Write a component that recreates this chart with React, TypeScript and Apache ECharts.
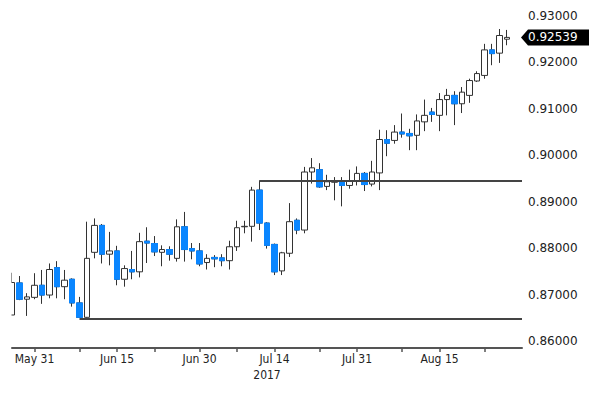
import React, { useEffect, useRef } from "react";
import * as echarts from "echarts";

const dates = [
  "May 26", "May 29", "May 30", "May 31",
  "Jun 1", "Jun 2", "Jun 5", "Jun 6", "Jun 7", "Jun 8", "Jun 9", "Jun 12", "Jun 13", "Jun 14", "Jun 15", "Jun 16",
  "Jun 19", "Jun 20", "Jun 21", "Jun 22", "Jun 23", "Jun 26", "Jun 27", "Jun 28", "Jun 29", "Jun 30",
  "Jul 3", "Jul 4", "Jul 5", "Jul 6", "Jul 7", "Jul 10", "Jul 11", "Jul 12", "Jul 13", "Jul 14",
  "Jul 17", "Jul 18", "Jul 19", "Jul 20", "Jul 21", "Jul 24", "Jul 25", "Jul 26", "Jul 27", "Jul 28", "Jul 31",
  "Aug 1", "Aug 2", "Aug 3", "Aug 4", "Aug 7", "Aug 8", "Aug 9", "Aug 10", "Aug 11", "Aug 14", "Aug 15",
  "Aug 16", "Aug 17", "Aug 18", "Aug 21", "Aug 22", "Aug 23", "Aug 24", "Aug 25", "Aug 28", "Aug 29", "Aug 30",
];

const labelDates = ["May 31", "Jun 15", "Jun 30", "Jul 14", "Jul 31", "Aug 15"];
const tickDates = [...labelDates, "Jun 8", "Jun 22", "Jul 7", "Jul 24", "Aug 8", "Aug 23"];
const yearLabel = "2017";
const yearAnchor = "Jul 13";

const opens = [
  0.8656, 0.8725, 0.8690, 0.8694, 0.8720, 0.8699, 0.8758, 0.8717, 0.8733, 0.8682,
  0.8651, 0.8791, 0.8849, 0.8787, 0.8794, 0.8733, 0.8754, 0.8749, 0.8815, 0.8810,
  0.8791, 0.8797, 0.8778, 0.8846, 0.8799, 0.8794, 0.8769, 0.8780, 0.8779, 0.8773,
  0.8803, 0.8846, 0.8847, 0.8925, 0.8854, 0.8808, 0.8751, 0.8789, 0.8860, 0.8839,
  0.8964, 0.8969, 0.8933, 0.8942, 0.8943, 0.8935, 0.8945, 0.8961, 0.8938, 0.8962,
  0.9034, 0.9032, 0.9050, 0.9047, 0.9043, 0.9072, 0.9093, 0.9086, 0.9120, 0.9129,
  0.9111, 0.9129, 0.9160, 0.9172, 0.9227, 0.9220, 0.9250,
];
const closes = [
  0.8726, 0.8690, 0.8695, 0.8720, 0.8699, 0.8754, 0.8717, 0.8731, 0.8682, 0.8651,
  0.8778, 0.8849, 0.8787, 0.8794, 0.8733, 0.8756, 0.8749, 0.8814, 0.8811, 0.8792,
  0.8797, 0.8787, 0.8846, 0.8797, 0.8794, 0.8766, 0.8778, 0.8777, 0.8773, 0.8803,
  0.8844, 0.8847, 0.8925, 0.8854, 0.8806, 0.8749, 0.8790, 0.8857, 0.8839, 0.8964,
  0.8973, 0.8932, 0.8943, 0.8943, 0.8935, 0.8945, 0.8961, 0.8937, 0.8964, 0.9034,
  0.9026, 0.9050, 0.9046, 0.9042, 0.9074, 0.9086, 0.9088, 0.9120, 0.9129, 0.9111,
  0.9136, 0.9161, 0.9176, 0.9227, 0.9219, 0.9258, 0.92539,
];
const lows = [
  0.8656, 0.8688, 0.8654, 0.8690, 0.8680, 0.8692, 0.8692, 0.8690, 0.8674, 0.8650,
  0.8650, 0.8778, 0.8767, 0.8763, 0.8720, 0.8717, 0.8733, 0.8737, 0.8768, 0.8783,
  0.8761, 0.8773, 0.8771, 0.8771, 0.8776, 0.8761, 0.8754, 0.8759, 0.8761, 0.8754,
  0.8794, 0.8832, 0.8814, 0.8839, 0.8799, 0.8742, 0.8742, 0.8781, 0.8830, 0.8832,
  0.8939, 0.8930, 0.8925, 0.8903, 0.8890, 0.8928, 0.8935, 0.8923, 0.8933, 0.8925,
  0.8998, 0.9025, 0.9038, 0.9011, 0.9011, 0.9052, 0.9072, 0.9052, 0.9086, 0.9065,
  0.9091, 0.9113, 0.9158, 0.9165, 0.9194, 0.9199, 0.9237,
];
const highs = [
  0.8747, 0.8740, 0.8703, 0.8746, 0.8753, 0.8767, 0.8772, 0.8753, 0.8735, 0.8695,
  0.8857, 0.8864, 0.8852, 0.8835, 0.8805, 0.8763, 0.8794, 0.8833, 0.8845, 0.8826,
  0.8806, 0.8804, 0.8862, 0.8878, 0.8811, 0.8811, 0.8787, 0.8785, 0.8787, 0.8816,
  0.8859, 0.8859, 0.8932, 0.8946, 0.8856, 0.8810, 0.8792, 0.8897, 0.8864, 0.8975,
  0.8994, 0.8983, 0.8958, 0.8953, 0.8953, 0.8969, 0.8976, 0.8964, 0.8988, 0.9055,
  0.9054, 0.9065, 0.9090, 0.9057, 0.9088, 0.9120, 0.9102, 0.9134, 0.9143, 0.9138,
  0.9147, 0.9165, 0.9181, 0.9240, 0.9240, 0.9272, 0.9270,
];

const supportLevel = 0.8648;
const supportStart = "Jun 8";
const resistanceLevel = 0.8946;
const resistanceStart = "Jul 12";
const lastPrice = 0.92539;

const BLUE = "#0a86ff";
const DARK = "#333333";
const NARROW = "'Liberation Sans Narrow', 'DejaVu Sans Condensed', 'Liberation Sans', sans-serif";
const WIDE = "'DejaVu Sans', Verdana, sans-serif";

export default function App() {
  const ref = useRef<HTMLDivElement>(null);
  useEffect(() => {
    if (!ref.current) return;
    const chart = echarts.init(ref.current, undefined, { renderer: "svg" });
    const allData = dates.map((_, i) =>
      i < opens.length ? [opens[i], closes[i], lows[i], highs[i]] : "-"
    );
    const downBodies = dates.map((_, i) => {
      if (i >= opens.length) return "-";
      const o = opens[i], c = closes[i];
      return c < o ? [o, c, c, o] : "-";
    });
    chart.setOption({
      animation: false,
      backgroundColor: "#ffffff",
      grid: { left: 12, right: 78, top: 16, bottom: 52, containLabel: false, outerBoundsMode: "none" },
      xAxis: {
        type: "category",
        data: dates,
        boundaryGap: false,
        offset: 7,
        axisLine: { show: true, lineStyle: { color: "#555555", width: 2 } },
        axisTick: {
          show: true,
          length: 4,
          lineStyle: { color: "#555555", width: 1.5 },
          interval: (idx: number, val: string) => tickDates.includes(val),
        },
        axisLabel: {
          interval: (idx: number, val: string) => labelDates.includes(val),
          color: "#222222",
          fontFamily: NARROW,
          fontSize: 12,
          margin: 5,
        },
        splitLine: { show: false },
      },
      yAxis: {
        type: "value",
        position: "right",
        min: 0.86,
        max: 0.93,
        interval: 0.01,
        scale: true,
        axisLine: { show: false },
        axisTick: { show: false },
        splitLine: { show: false },
        axisLabel: {
          formatter: (v: number) => v.toFixed(5),
          color: "#222222",
          fontFamily: WIDE,
          fontSize: 12,
          margin: 6,
        },
      },
      series: [
        {
          type: "candlestick",
          data: allData,
          barWidth: 6,
          itemStyle: {
            color: "#ffffff",
            color0: BLUE,
            borderColor: DARK,
            borderColor0: DARK,
            borderWidth: 1,
          },
          markLine: {
            silent: true,
            symbol: ["none", "none"],
            label: { show: false },
            lineStyle: { color: "#444444", width: 2, type: "solid" },
            data: [
              [
                { coord: [supportStart, supportLevel] },
                { coord: [dates[dates.length - 1], supportLevel] },
              ],
              [
                { coord: [resistanceStart, resistanceLevel] },
                { coord: [dates[dates.length - 1], resistanceLevel] },
              ],
            ],
          },
        },
        {
          type: "candlestick",
          data: downBodies,
          barWidth: 6,
          itemStyle: {
            color: BLUE,
            color0: BLUE,
            borderColor: BLUE,
            borderColor0: BLUE,
            borderWidth: 1,
          },
        },
      ],
    });
    const py = chart.convertToPixel({ yAxisIndex: 0 }, lastPrice) as number;
    const yearX = chart.convertToPixel({ xAxisIndex: 0 }, yearAnchor) as number;
    const leftEdge = chart.convertToPixel({ xAxisIndex: 0 }, dates[0]) as number;
    chart.setOption({
      graphic: [
        {
          type: "rect",
          z: 100,
          shape: { x: 0, y: 0, width: leftEdge - 0.5, height: 346 },
          style: { fill: "#ffffff" },
        },
        {
          type: "polygon",
          shape: {
            points: [
              [521, py],
              [528, py - 8],
              [589, py - 8],
              [589, py + 8],
              [528, py + 8],
            ],
          },
          style: { fill: "#000000" },
        },
        {
          type: "text",
          x: 528,
          y: py,
          style: {
            text: lastPrice.toFixed(5),
            fill: "#ffffff",
            font: `12px ${WIDE}`,
            textAlign: "left",
            textVerticalAlign: "middle",
          },
        },
        {
          type: "text",
          x: yearX,
          y: 375,
          style: {
            text: yearLabel,
            fill: "#222222",
            font: `12px ${NARROW}`,
            textAlign: "center",
            textVerticalAlign: "middle",
          },
        },
      ],
    });
    return () => chart.dispose();
  }, []);
  return (
    <div
      ref={ref}
      style={{ position: "fixed", left: 0, top: 0, width: 600, height: 393, background: "#fff" }}
    />
  );
}
